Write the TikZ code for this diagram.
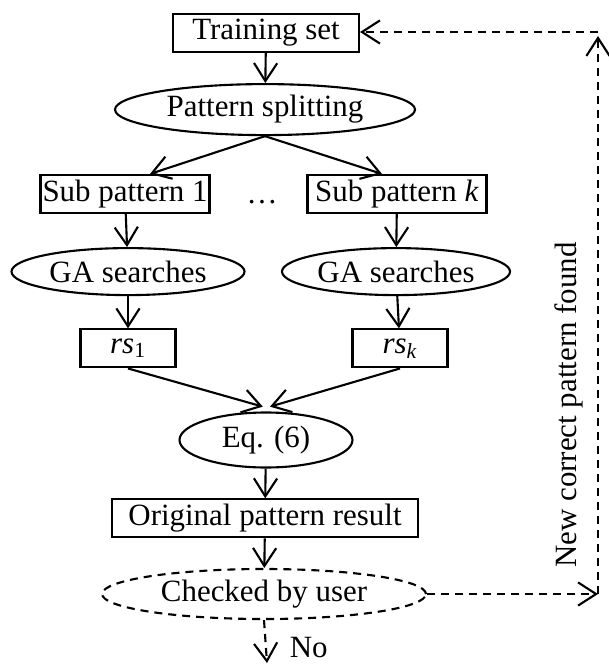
\documentclass[tikz,border=0pt]{standalone}
\usepackage{fontspec}
\setmainfont{Liberation Serif}
\usetikzlibrary{arrows.meta,shapes.geometric}
\tikzset{
	flowtext/.style={font=\fontsize{22}{26}\selectfont},
	flowbox/.style={flowtext, draw, line width=1.5pt, rectangle, inner sep=0pt, minimum height=0.95cm},
	flowoval/.style={flowtext, draw, line width=1.5pt, ellipse, inner sep=0pt},
	flowarrow/.style={line width=1.5pt, -{Straight Barb[length=0.45cm,width=0.58cm]}},
	backarrow/.style={flowarrow, dash pattern=on 0.2cm off 0.15cm}
}

\begin{document}
\begin{tikzpicture}
			%%%%% START %%%%%
			\useasboundingbox (0, 0) rectangle (15.2, -16.6);
			
			\node[flowbox, minimum width=4.65cm] (train) at (6.65, -0.825) {Training set};
			\node[flowoval, minimum width=7.5cm, minimum height=1.275cm] (split) at (6.625, -2.74) {Pattern splitting};
			
			\node[flowbox, minimum width=4.225cm] (subone) at (3.125, -4.85) {Sub pattern 1};
			\node[flowbox, minimum width=4.475cm] (subk) at (9.925, -4.85) {Sub pattern \textit{k}};
			\node[flowtext] (dots) at (6.55, -5.05) {\ldots};
			
			\node[flowoval, minimum width=5.825cm, minimum height=1.175cm] (gaone) at (3.2, -6.79) {GA searches};
			\node[flowoval, minimum width=5.7cm, minimum height=1.175cm] (gak) at (9.9, -6.79) {GA searches};
			
			\node[flowbox, minimum width=2.375cm] (rsone) at (3.2, -8.71) {\textit{rs}\textsubscript{1}};
			\node[flowbox, minimum width=2.375cm] (rsk) at (10, -8.71) {\textit{rs}\textsubscript{\textit{k}}};
			
			\node[flowoval, minimum width=4.325cm, minimum height=1.375cm] (eq) at (6.65, -11) {Eq. (6)};
			\node[flowbox, minimum width=7.65cm] (orig) at (6.625, -12.96) {Original pattern result};
			\node[flowoval, dash pattern=on 0.2cm off 0.15cm, minimum width=8.1cm, minimum height=1.25cm] (check) at (6.6, -14.85) {Checked by user};
			
			\node[flowtext] (no) at (7.72, -16.2) {No};
			\node[flowtext, rotate=90] (found) at (14.225, -10.125) {New correct pattern found};
			
			\coordinate (noend) at (6.675, -16.575);
			\coordinate (bend) at (14.95, -14.85);
			\coordinate (top) at (14.95, -0.8);
			
			\draw[flowarrow] (train) -- (split);
			\draw[flowarrow] (split.south) -- ([xshift=0.625cm]subone.north);
			\draw[flowarrow] (split.south) -- ([xshift=-0.375cm]subk.north);
			
			\draw[flowarrow] (subone) -- (gaone);
			\draw[flowarrow] (gaone) -- (rsone);
			\draw[flowarrow] (subk) -- (gak);
			\draw[flowarrow] (gak) -- (rsk);
			
			\draw[flowarrow] (rsone.south) -- ([xshift=-0.08cm, yshift=0.12cm]eq.north);
			\draw[flowarrow] (rsk.south) -- ([xshift=0.1cm, yshift=0.12cm]eq.north);
			\draw[flowarrow] (eq) -- (orig);
			\draw[flowarrow] (orig) -- (check);
			
			\draw[backarrow] (check.south) -- (noend);
			\draw[backarrow] (check.east) -- (bend);
			\draw[backarrow, shorten >=0.1cm] (bend) -- (top);
			\draw[backarrow] (top) -- (top -| train.east);
			
			%%%%% END %%%%%
		\end{tikzpicture}
\end{document}
